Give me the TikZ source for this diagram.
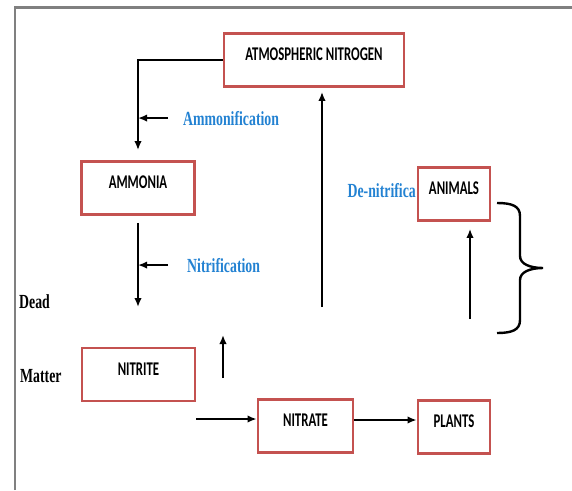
\documentclass[tikz,border=0pt]{standalone}
\usepackage{fontspec}
\usetikzlibrary{arrows.meta,positioning}
\newfontfamily\boxfont[FakeStretch=0.66]{Carlito}
\newfontfamily\labelfont[FakeStretch=0.69]{Liberation Serif}
\definecolor{boxred}{RGB}{196,82,80}
\definecolor{procblue}{RGB}{35,130,210}
\definecolor{framegray}{RGB}{128,128,128}
\tikzset{
    stage/.style={draw=boxred, line width=2.8pt, fill=white, inner xsep=0pt, inner ysep=0pt,
        text height=27pt, text depth=26pt, font={\boxfont\bfseries\fontsize{19.4pt}{22pt}\selectfont}},
    process/.style={text=procblue, inner sep=0pt, font={\labelfont\bfseries\fontsize{20pt}{22pt}\selectfont}},
    side/.style={text=black, inner sep=0pt, font={\labelfont\bfseries\fontsize{20pt}{22pt}\selectfont}},
    flow/.style={-{Latex[length=9pt,width=7.5pt]}, line width=2.3pt},
}
\begin{document}
\begin{tikzpicture}[x=1pt,y=1pt]
    \useasboundingbox (0,0) rectangle (572,-490);
    \draw[framegray, line width=2.5pt] (15,-490) -- (15,-7.5) -- (572,-7.5);

    % boxes of the cycle
    \node[stage, minimum width=180pt] (atm) at (314,-60) {ATMOSPHERIC NITROGEN};
    \node[stage, minimum width=113pt] (ammonia) at (138,-188) {AMMONIA};
    \node[stage, minimum width=113pt] (nitrite) at (138.5,-374.5) {NITRITE};
    \node[stage, minimum width=95pt] (nitrate) at (305.5,-426) {NITRATE};
    \node[stage, minimum width=72pt] (plants) at (454,-427) {PLANTS};

    % process names
    \node[process, anchor=base west] (ammon) at (183,-125) {Ammonification};
    \node[process, anchor=base west] (nitrif) at (187,-272) {Nitrification};
    \node[process, anchor=base east] (denitrif) at (416,-197) {De-nitrifica};
    \node[stage, minimum width=72pt] (animals) at (454,-194) {ANIMALS};

    \node[side, anchor=base west] (dead) at (19,-308) {Dead};
    \node[side, anchor=base west] (matter) at (20,-382) {Matter};

    % free ends
    \coordinate (amend) at (138,-307);
    \coordinate (upbot) at (223,-378);
    \coordinate (uptop) at (223,-335);
    \coordinate (denitbot) at (322,-307);
    \coordinate (animbot) at (470,-319);

    \draw[flow] (atm.west) -| ([yshift=10pt]ammonia.north);
    \draw[flow] ([xshift=-15pt]ammon.west) -- (ammon.west -| ammonia.north);
    \draw[flow] ([yshift=-7pt]ammonia.south) -- (amend);
    \draw[flow] ([xshift=-19pt]nitrif.west) -- (nitrif.west -| ammonia.north);
    \draw[flow] (upbot) -- (uptop);
    \draw[flow] ([yshift=7pt]nitrate.west -| nitrite.east) -- ([yshift=7pt]nitrate.west);
    \draw[flow] ([yshift=6pt]nitrate.east) -- ([yshift=6pt]nitrate.east -| plants.west);
    \draw[flow] (denitbot) -- ([yshift=-4pt]denitbot |- atm.south);
    \draw[flow] (animbot) -- ([yshift=-7pt]animbot |- animals.south);

    % brace
    \draw[line width=2.4pt] (497,-203) .. controls (512,-203) and (520,-206) .. (520,-216) -- (520,-256)
        .. controls (520,-264) and (530,-268) .. (543,-268)
        .. controls (530,-268) and (520,-272) .. (520,-280) -- (520,-320)
        .. controls (520,-330) and (512,-333) .. (497,-333);
\end{tikzpicture}
\end{document}
